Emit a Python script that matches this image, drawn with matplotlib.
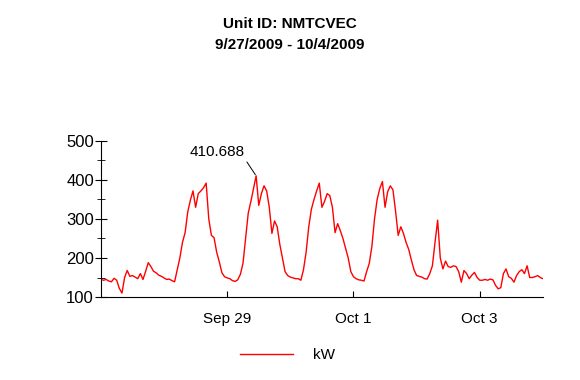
import matplotlib
matplotlib.use('Agg')
import matplotlib.pyplot as plt
import matplotlib.dates as mdates
from matplotlib.ticker import MultipleLocator
import pandas as pd

plt.rcParams['font.family'] = ['Liberation Sans', 'DejaVu Sans']

title = 'Unit ID: NMTCVEC\n9/27/2009 - 10/4/2009'
series_name = 'kW'
start = '2009-09-27 00:00'

# hourly kW readings, Sep 27 00:00 -> Oct 4 00:00
kw = [
    145, 143, 145, 141, 139, 148, 143, 122, 110, 150, 168, 153,
    155, 151, 147, 160, 145, 166, 188, 178, 166, 162, 156, 153,
    149, 145, 146, 142, 139, 170, 200, 240, 265, 318, 348, 372,
    330, 365, 372, 380, 392, 300, 258, 252, 215, 190, 162, 152,
    149, 147, 142, 140, 144, 158, 186, 250, 315, 345, 378, 410.688,
    335, 365, 385, 372, 330, 263, 295, 280, 235, 200, 165, 155,
    151, 149, 147, 147, 143, 170, 215, 280, 325, 350, 372, 392,
    330, 345, 365, 360, 330, 265, 288, 270, 250, 225, 200, 165,
    152, 147, 144, 143, 141, 165, 186, 230, 300, 350, 378, 396,
    330, 370, 385, 375, 320, 258, 280, 263, 240, 222, 195, 170,
    155, 153, 151, 147, 146, 160, 180, 240, 297, 200, 172, 192,
    178, 176, 180, 178, 165, 138, 168, 160, 147, 156, 163, 150,
    143, 143, 145, 143, 146, 144, 130, 121, 124, 160, 172, 152,
    148, 138, 155, 165, 170, 160, 180, 150, 150, 152, 155, 150,
    147,
]
times = pd.date_range(start, periods=len(kw), freq='h')
peak_label = '410.688'

fig = plt.figure(figsize=(5.8, 3.8), dpi=100)
ax = fig.add_axes([0.174, 0.2184, 0.762, 0.4106])

ax.plot(times, kw, color='red', lw=1, label=series_name)

ax.set_xlim(times[0], times[-1])
ax.set_ylim(100, 500)
ax.yaxis.set_major_locator(MultipleLocator(100))
ax.yaxis.set_minor_locator(MultipleLocator(50))
ax.xaxis.set_major_locator(mdates.DayLocator(bymonthday=[29, 1, 3]))
ax.xaxis.set_major_formatter(mdates.DateFormatter('%b %-d'))

for side in ['top', 'right']:
    ax.spines[side].set_visible(False)
ax.tick_params(axis='y', which='major', direction='inout', length=8, labelsize=12, pad=1)
ax.tick_params(axis='y', which='minor', direction='inout', length=6)
ax.tick_params(axis='x', which='major', direction='in', length=4, labelsize=11, pad=11)

ipk = kw.index(max(kw))
ax.annotate(peak_label, xy=(times[ipk], kw[ipk]), xytext=(-8, 12),
            textcoords='offset points', ha='right', va='bottom', fontsize=11,
            arrowprops=dict(arrowstyle='-', color='black', lw=0.7,
                            shrinkA=0, shrinkB=1, relpos=(1, 0)))

fig.suptitle(title, y=0.955, fontsize=11, fontweight='bold', va='top',
             linespacing=1.6)
fig.legend(loc='center', bbox_to_anchor=(0.496, 0.065), frameon=False,
           fontsize=11, handlelength=3.5, handletextpad=1.3)

fig.savefig('out.png', dpi=100)
